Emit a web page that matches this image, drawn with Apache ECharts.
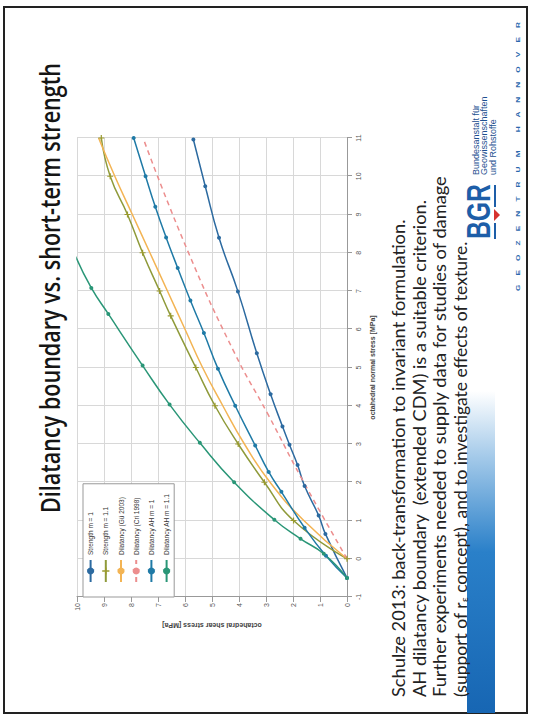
<!DOCTYPE html>
<html>
<head>
<meta charset="utf-8">
<script src="https://cdn.jsdelivr.net/npm/echarts@6/dist/echarts.min.js"></script>
<style>
html,body{margin:0;padding:0;background:#fff;overflow:hidden;width:534px;height:717px;}
#slide{position:absolute;left:0;top:0;width:717px;height:534px;transform-origin:0 0;transform:translate(0px,717px) rotate(-90deg);background:#fff;}
</style>
</head>
<body>
<div id="slide"></div>
<script>
// ---- data (x = octahedral normal stress, y = octahedral shear stress, MPa) ----
const seriesNames = ["Strength m = 1", "Strength m = 1.1", "Dilatancy (Gü 2003)", "Dilatancy (Cri 1998)", "Dilatancy AH m = 1", "Dilatancy AH m = 1.1"];

const strengthM1_n = [-0.5, 0.65, 1.13, 1.9, 2.45, 2.98, 3.46, 4.3, 5.37, 6.99, 8.39, 9.74, 10.96];
const strengthM1_s = [0, 0.8, 1.05, 1.57, 1.83, 2.13, 2.39, 2.83, 3.34, 4.04, 4.74, 5.25, 5.69];

const strengthM11_n = [0, 1.0, 2.0, 3.0, 4.0, 5.0, 6.35, 7.0, 8.0, 9.0, 10.0, 11.0];
const strengthM11_s = [0, 1.98, 3.06, 4.03, 4.89, 5.6, 6.53, 6.94, 7.57, 8.13, 8.77, 9.1];

const dilGu_n = [0, 1, 2, 3, 4, 5, 6, 7, 8, 9, 10, 11];
const dilGu_s = [0, 1.6, 2.85, 3.8, 4.6, 5.35, 6.0, 6.65, 7.3, 7.95, 8.6, 9.2];

const dilCri_n = [0, 2.1, 3.74, 5.4, 8.05, 10.9];
const dilCri_s = [0, 1.68, 2.9, 4.18, 5.9, 7.5];

const dilAH1_n = [-0.5, 0.08, 0.81, 1.75, 2.27, 2.96, 4.0, 4.97, 5.9, 6.75, 7.6, 8.4, 9.2, 10.0, 11.0];
const dilAH1_s = [0, 0.78, 1.57, 2.43, 2.9, 3.4, 4.14, 4.78, 5.3, 5.8, 6.27, 6.7, 7.1, 7.46, 7.9];

const dilAH11_n = [-0.5, 0.13, 0.52, 1.02, 2.0, 3.03, 4.03, 5.05, 6.4, 7.08, 7.9];
const dilAH11_s = [0, 0.86, 1.72, 2.69, 4.18, 5.45, 6.57, 7.57, 8.84, 9.47, 10.05];

const normalTicks = [-1, 11, 1];   // min, max, interval
const shearTicks = [0, 10, 1];

const titleText = "Dilatancy boundary vs. short-term strength";
const bodyLines = [
  "Schulze 2013: back-transformation to invariant formulation.",
  "AH dilatancy boundary  (extended CDM) is a suitable criterion.",
  "Further experiments needed to supply data for studies of damage",
  "(support of r{s|ε} concept), and to investigate effects of texture."
];
const logoSmall = "Bundesanstalt für\nGeowissenschaften\nund Rohstoffe";
const logoBottom = "G    E    O    Z    E    N    T    R    U    M        H    A    N    N    O    V    E    R";

// ---- helpers ----
const pairs = (a, b) => a.map((v, i) => [v, b[i]]);
const plusPath = 'path://M4,0H6V4H10V6H6V10H4V6H0V4H4Z';
const mctx = document.createElement('canvas').getContext('2d');
function widthOf(text, font) { mctx.font = font; return mctx.measureText(text.replace(/\{s\|(.)\}/, '$1')).width; }

const titleFont = '600 27px "Open Sans"';
const titleScale = 450 / widthOf(titleText, titleFont);
const bodyFont = '17px Lato';
const bodyTargets = [478, 498, 523, 459];
const bgrFont = 'bold 34px "Liberation Sans"';
const geoFont = 'bold 5.5px "Liberation Sans"';

const chart = echarts.init(document.getElementById('slide'), null, {renderer: 'svg', width: 717, height: 534});
const axisLabelStyle = {fontSize: 7, color: '#555', fontFamily: 'Liberation Sans'};

const bodyGraphics = bodyLines.map((t, i) => ({
  type: 'text', x: 20, y: 399 + i * 20.5, scaleX: bodyTargets[i] / widthOf(t, bodyFont),
  style: {text: t, font: bodyFont, fill: '#222', textVerticalAlign: 'middle',
          rich: {s: {fontSize: 10, fontFamily: 'Lato', padding: [8, 0, 0, 0]}}}
}));

chart.setOption({
  animation: false,
  backgroundColor: '#fff',
  grid: {left: 120, right: 138, top: 77, bottom: 187},
  legend: {
    orient: 'vertical',
    left: 120, top: 83,
    backgroundColor: '#fff',
    borderColor: '#999', borderWidth: 1,
    padding: [4, 10, 4, 14],
    itemWidth: 22, itemHeight: 9, itemGap: 8,
    textStyle: {fontSize: 6.5, color: '#333', fontFamily: 'Liberation Sans'},
    data: seriesNames
  },
  xAxis: {
    type: 'value', min: normalTicks[0], max: normalTicks[1], interval: normalTicks[2],
    name: 'octahedral normal stress [MPa]', nameLocation: 'middle', nameGap: 22,
    nameTextStyle: {fontSize: 7, fontWeight: 'bold', color: '#444', fontFamily: 'Liberation Sans'},
    axisLine: {show: true, onZero: false, lineStyle: {color: '#999'}},
    axisTick: {show: true, lineStyle: {color: '#999'}},
    axisLabel: Object.assign({margin: 8}, axisLabelStyle),
    splitLine: {show: true, lineStyle: {color: '#d8d8d8', width: 1}}
  },
  yAxis: {
    type: 'value', min: shearTicks[0], max: shearTicks[1], interval: shearTicks[2],
    name: 'octahedral shear stress [MPa]', nameLocation: 'middle', nameGap: 24,
    nameTextStyle: {fontSize: 7, fontWeight: 'bold', color: '#444', fontFamily: 'Liberation Sans'},
    axisLine: {show: true, onZero: false, lineStyle: {color: '#999'}},
    axisTick: {show: true, lineStyle: {color: '#999'}},
    axisLabel: Object.assign({margin: 6}, axisLabelStyle),
    splitLine: {show: true, lineStyle: {color: '#d8d8d8', width: 1}}
  },
  series: [
    {name: seriesNames[0], type: 'line', data: pairs(strengthM1_n, strengthM1_s), smooth: true,
     symbol: 'circle', symbolSize: 4, itemStyle: {color: '#2c6aa0'}, lineStyle: {color: '#2c6aa0', width: 1.5}},
    {name: seriesNames[1], type: 'line', data: pairs(strengthM11_n, strengthM11_s), smooth: true,
     symbol: plusPath, symbolSize: 6, itemStyle: {color: '#9a9a2e'}, lineStyle: {color: '#8f9a3a', width: 1.5}},
    {name: seriesNames[2], type: 'line', data: pairs(dilGu_n, dilGu_s), smooth: true,
     showSymbol: false, symbol: 'none', itemStyle: {color: '#f3b454'}, lineStyle: {color: '#f3b454', width: 1.5}},
    {name: seriesNames[3], type: 'line', data: pairs(dilCri_n, dilCri_s), smooth: true,
     showSymbol: false, symbol: 'none', itemStyle: {color: '#ec8e8e'}, lineStyle: {color: '#ec8e8e', width: 1.5, type: [5, 4]}},
    {name: seriesNames[4], type: 'line', data: pairs(dilAH1_n, dilAH1_s), smooth: true,
     symbol: 'circle', symbolSize: 4, itemStyle: {color: '#1f7aa6'}, lineStyle: {color: '#1f7aa6', width: 1.5}},
    {name: seriesNames[5], type: 'line', data: pairs(dilAH11_n, dilAH11_s), smooth: true, clip: true,
     symbol: 'circle', symbolSize: 4, itemStyle: {color: '#2a9677'}, lineStyle: {color: '#2a9677', width: 1.5}}
  ],
  graphic: [
    {type: 'rect', shape: {x: 4, y: 4, width: 706, height: 523}, style: {fill: 'none', stroke: '#222', lineWidth: 2}, silent: true},
    {type: 'text', x: 204, y: 50, scaleX: titleScale, style: {text: titleText, font: titleFont, fill: '#151515', textVerticalAlign: 'middle'}},
    {type: 'rect', shape: {x: 4, y: 467, width: 322, height: 28},
     style: {fill: new echarts.graphic.LinearGradient(0, 0, 1, 0, [
       {offset: 0, color: '#1766b3'}, {offset: 0.5, color: '#2a80c9'}, {offset: 0.8, color: '#a6cbea'}, {offset: 1, color: '#ffffff'}])}},
    ...bodyGraphics,
    {type: 'text', x: 478, y: 478, scaleX: 55 / widthOf('BGR', bgrFont), style: {text: 'BGR', font: bgrFont, fill: '#1d5ea8', textVerticalAlign: 'middle'}},
    {type: 'polygon', shape: {points: [[496, 494], [508, 494], [502, 500]]}, style: {fill: '#d6322e'}},
    {type: 'rect', shape: {x: 478, y: 494, width: 16, height: 2}, style: {fill: '#1d5ea8'}},
    {type: 'rect', shape: {x: 510, y: 494, width: 22, height: 2}, style: {fill: '#1d5ea8'}},
    {type: 'text', x: 542, y: 484, style: {text: logoSmall, font: '9px "Liberation Sans"', fill: '#1d4f8f', lineHeight: 8.5, textVerticalAlign: 'middle'}},
    {type: 'text', x: 426, y: 518, scaleX: 270 / widthOf(logoBottom, geoFont), style: {text: logoBottom, font: geoFont, fill: '#2a68ad', textVerticalAlign: 'middle'}}
  ]
});
</script>
</body>
</html>
